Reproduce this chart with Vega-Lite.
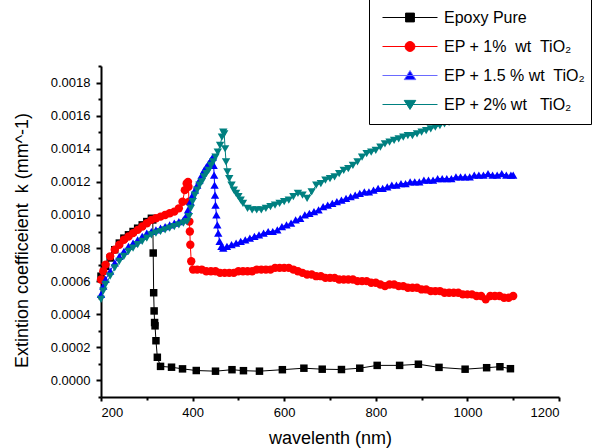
{
  "$schema": "https://vega.github.io/schema/vega-lite/v6.json",
  "width": 458,
  "height": 331,
  "autosize": {"type": "none"},
  "padding": {"left": 101, "top": 66, "right": 34, "bottom": 51},
  "background": "white",
  "config": {"view": {"stroke": null}, "font": "Liberation Sans"},
  "data": {"values": [
    {"s":"EP","nm":200,"k":0.00063},{"s":"EP","nm":210,"k":0.00069},{"s":"EP","nm":220,"k":0.00074},{"s":"EP","nm":230,"k":0.00079},{"s":"EP","nm":240,"k":0.00083},{"s":"EP","nm":250,"k":0.00086},{"s":"EP","nm":260,"k":0.00088},{"s":"EP","nm":270,"k":0.0009},{"s":"EP","nm":280,"k":0.00092},{"s":"EP","nm":290,"k":0.00094},{"s":"EP","nm":300,"k":0.00096},{"s":"EP","nm":310,"k":0.00098},{"s":"EP","nm":313,"k":0.00097},{"s":"EP","nm":314,"k":0.00077},{"s":"EP","nm":315,"k":0.00053},{"s":"EP","nm":316,"k":0.00042},{"s":"EP","nm":317,"k":0.00035},{"s":"EP","nm":318,"k":0.00033},{"s":"EP","nm":320,"k":0.00024},{"s":"EP","nm":323,"k":0.00014},{"s":"EP","nm":330,"k":0.000085},{"s":"EP","nm":354,"k":0.00008},{"s":"EP","nm":378,"k":0.00007},{"s":"EP","nm":408,"k":0.00006},{"s":"EP","nm":450,"k":0.000056},{"s":"EP","nm":486,"k":0.000065},{"s":"EP","nm":511,"k":0.000059},{"s":"EP","nm":546,"k":0.000056},{"s":"EP","nm":596,"k":0.000065},{"s":"EP","nm":643,"k":0.000074},{"s":"EP","nm":683,"k":0.000068},{"s":"EP","nm":725,"k":0.000066},{"s":"EP","nm":765,"k":0.000074},{"s":"EP","nm":803,"k":0.000091},{"s":"EP","nm":852,"k":0.000091},{"s":"EP","nm":893,"k":0.000098},{"s":"EP","nm":938,"k":0.000079},{"s":"EP","nm":995,"k":0.000068},{"s":"EP","nm":1042,"k":0.000077},{"s":"EP","nm":1071,"k":0.000083},{"s":"EP","nm":1094,"k":0.000071},
    {"s":"1","nm":200,"k":0.00061},{"s":"1","nm":205,"k":0.00066},{"s":"1","nm":210,"k":0.0007},{"s":"1","nm":220,"k":0.00075},{"s":"1","nm":230,"k":0.00079},{"s":"1","nm":240,"k":0.00082},{"s":"1","nm":250,"k":0.00085},{"s":"1","nm":260,"k":0.00087},{"s":"1","nm":270,"k":0.00089},{"s":"1","nm":280,"k":0.00091},{"s":"1","nm":290,"k":0.00093},{"s":"1","nm":300,"k":0.00095},{"s":"1","nm":310,"k":0.00097},{"s":"1","nm":320,"k":0.00098},{"s":"1","nm":330,"k":0.00099},{"s":"1","nm":340,"k":0.001},{"s":"1","nm":350,"k":0.00101},{"s":"1","nm":360,"k":0.00102},{"s":"1","nm":370,"k":0.00104},{"s":"1","nm":378,"k":0.00108},{"s":"1","nm":383,"k":0.00115},{"s":"1","nm":387,"k":0.00119},{"s":"1","nm":390,"k":0.0012},{"s":"1","nm":391,"k":0.00117},{"s":"1","nm":392,"k":0.00108},{"s":"1","nm":393,"k":0.00096},{"s":"1","nm":394,"k":0.0009},{"s":"1","nm":395,"k":0.00082},{"s":"1","nm":397,"k":0.00072},{"s":"1","nm":401,"k":0.00067},{"s":"1","nm":410,"k":0.00067},{"s":"1","nm":420,"k":0.00067},{"s":"1","nm":430,"k":0.00066},{"s":"1","nm":440,"k":0.00066},{"s":"1","nm":450,"k":0.00066},{"s":"1","nm":460,"k":0.00065},{"s":"1","nm":470,"k":0.00065},{"s":"1","nm":480,"k":0.00065},{"s":"1","nm":490,"k":0.00065},{"s":"1","nm":500,"k":0.00066},{"s":"1","nm":510,"k":0.00066},{"s":"1","nm":520,"k":0.00066},{"s":"1","nm":530,"k":0.00066},{"s":"1","nm":540,"k":0.00067},{"s":"1","nm":550,"k":0.00067},{"s":"1","nm":560,"k":0.00067},{"s":"1","nm":570,"k":0.00067},{"s":"1","nm":580,"k":0.00068},{"s":"1","nm":590,"k":0.00068},{"s":"1","nm":600,"k":0.00068},{"s":"1","nm":610,"k":0.00068},{"s":"1","nm":620,"k":0.00067},{"s":"1","nm":630,"k":0.00066},{"s":"1","nm":640,"k":0.00065},{"s":"1","nm":650,"k":0.00064},{"s":"1","nm":660,"k":0.00064},{"s":"1","nm":670,"k":0.00063},{"s":"1","nm":680,"k":0.00063},{"s":"1","nm":690,"k":0.00062},{"s":"1","nm":700,"k":0.00062},{"s":"1","nm":710,"k":0.00062},{"s":"1","nm":720,"k":0.00061},{"s":"1","nm":730,"k":0.00061},{"s":"1","nm":740,"k":0.00061},{"s":"1","nm":750,"k":0.00061},{"s":"1","nm":760,"k":0.0006},{"s":"1","nm":770,"k":0.0006},{"s":"1","nm":780,"k":0.0006},{"s":"1","nm":790,"k":0.00059},{"s":"1","nm":800,"k":0.00059},{"s":"1","nm":810,"k":0.00058},{"s":"1","nm":820,"k":0.00057},{"s":"1","nm":830,"k":0.00058},{"s":"1","nm":840,"k":0.00058},{"s":"1","nm":850,"k":0.00057},{"s":"1","nm":860,"k":0.00057},{"s":"1","nm":870,"k":0.00056},{"s":"1","nm":880,"k":0.00056},{"s":"1","nm":890,"k":0.00056},{"s":"1","nm":900,"k":0.00055},{"s":"1","nm":910,"k":0.00055},{"s":"1","nm":920,"k":0.00054},{"s":"1","nm":930,"k":0.00054},{"s":"1","nm":940,"k":0.00054},{"s":"1","nm":950,"k":0.00053},{"s":"1","nm":960,"k":0.00053},{"s":"1","nm":970,"k":0.00053},{"s":"1","nm":980,"k":0.00053},{"s":"1","nm":990,"k":0.00052},{"s":"1","nm":1000,"k":0.00052},{"s":"1","nm":1010,"k":0.00052},{"s":"1","nm":1020,"k":0.00051},{"s":"1","nm":1030,"k":0.00051},{"s":"1","nm":1040,"k":0.00049},{"s":"1","nm":1050,"k":0.00051},{"s":"1","nm":1060,"k":0.00051},{"s":"1","nm":1070,"k":0.00051},{"s":"1","nm":1080,"k":0.0005},{"s":"1","nm":1090,"k":0.0005},{"s":"1","nm":1100,"k":0.00051},
    {"s":"1.5","nm":200,"k":0.00052},{"s":"1.5","nm":205,"k":0.00057},{"s":"1.5","nm":210,"k":0.00061},{"s":"1.5","nm":220,"k":0.00066},{"s":"1.5","nm":230,"k":0.00071},{"s":"1.5","nm":240,"k":0.00075},{"s":"1.5","nm":250,"k":0.00078},{"s":"1.5","nm":260,"k":0.00081},{"s":"1.5","nm":270,"k":0.00083},{"s":"1.5","nm":280,"k":0.00085},{"s":"1.5","nm":290,"k":0.00087},{"s":"1.5","nm":300,"k":0.00089},{"s":"1.5","nm":310,"k":0.0009},{"s":"1.5","nm":320,"k":0.00091},{"s":"1.5","nm":330,"k":0.00092},{"s":"1.5","nm":340,"k":0.00093},{"s":"1.5","nm":350,"k":0.00094},{"s":"1.5","nm":360,"k":0.00095},{"s":"1.5","nm":370,"k":0.00096},{"s":"1.5","nm":380,"k":0.00097},{"s":"1.5","nm":385,"k":0.00099},{"s":"1.5","nm":390,"k":0.00103},{"s":"1.5","nm":395,"k":0.00108},{"s":"1.5","nm":400,"k":0.00112},{"s":"1.5","nm":405,"k":0.00115},{"s":"1.5","nm":410,"k":0.00118},{"s":"1.5","nm":415,"k":0.00121},{"s":"1.5","nm":420,"k":0.00124},{"s":"1.5","nm":425,"k":0.00127},{"s":"1.5","nm":430,"k":0.00129},{"s":"1.5","nm":435,"k":0.00131},{"s":"1.5","nm":440,"k":0.00133},{"s":"1.5","nm":444,"k":0.00135},{"s":"1.5","nm":446,"k":0.0013},{"s":"1.5","nm":447,"k":0.00124},{"s":"1.5","nm":448,"k":0.00118},{"s":"1.5","nm":449,"k":0.00112},{"s":"1.5","nm":450,"k":0.00106},{"s":"1.5","nm":452,"k":0.001},{"s":"1.5","nm":454,"k":0.00094},{"s":"1.5","nm":456,"k":0.00089},{"s":"1.5","nm":459,"k":0.00084},{"s":"1.5","nm":463,"k":0.00081},{"s":"1.5","nm":467,"k":0.0008},{"s":"1.5","nm":475,"k":0.00081},{"s":"1.5","nm":485,"k":0.00082},{"s":"1.5","nm":495,"k":0.00083},{"s":"1.5","nm":505,"k":0.00084},{"s":"1.5","nm":515,"k":0.00085},{"s":"1.5","nm":525,"k":0.00086},{"s":"1.5","nm":535,"k":0.00087},{"s":"1.5","nm":545,"k":0.00088},{"s":"1.5","nm":555,"k":0.00089},{"s":"1.5","nm":565,"k":0.0009},{"s":"1.5","nm":575,"k":0.0009},{"s":"1.5","nm":585,"k":0.00091},{"s":"1.5","nm":595,"k":0.00093},{"s":"1.5","nm":605,"k":0.00094},{"s":"1.5","nm":615,"k":0.00095},{"s":"1.5","nm":625,"k":0.00097},{"s":"1.5","nm":635,"k":0.00098},{"s":"1.5","nm":645,"k":0.001},{"s":"1.5","nm":655,"k":0.00101},{"s":"1.5","nm":665,"k":0.00102},{"s":"1.5","nm":675,"k":0.00103},{"s":"1.5","nm":685,"k":0.00105},{"s":"1.5","nm":695,"k":0.00106},{"s":"1.5","nm":705,"k":0.00107},{"s":"1.5","nm":715,"k":0.00108},{"s":"1.5","nm":725,"k":0.00109},{"s":"1.5","nm":735,"k":0.0011},{"s":"1.5","nm":745,"k":0.00111},{"s":"1.5","nm":755,"k":0.00112},{"s":"1.5","nm":765,"k":0.00113},{"s":"1.5","nm":775,"k":0.00114},{"s":"1.5","nm":785,"k":0.00114},{"s":"1.5","nm":795,"k":0.00115},{"s":"1.5","nm":805,"k":0.00116},{"s":"1.5","nm":815,"k":0.00116},{"s":"1.5","nm":825,"k":0.00117},{"s":"1.5","nm":835,"k":0.00118},{"s":"1.5","nm":845,"k":0.00118},{"s":"1.5","nm":855,"k":0.00119},{"s":"1.5","nm":865,"k":0.00119},{"s":"1.5","nm":875,"k":0.0012},{"s":"1.5","nm":885,"k":0.0012},{"s":"1.5","nm":895,"k":0.0012},{"s":"1.5","nm":905,"k":0.00121},{"s":"1.5","nm":915,"k":0.00121},{"s":"1.5","nm":925,"k":0.00121},{"s":"1.5","nm":935,"k":0.00122},{"s":"1.5","nm":945,"k":0.00122},{"s":"1.5","nm":955,"k":0.00122},{"s":"1.5","nm":965,"k":0.00122},{"s":"1.5","nm":975,"k":0.00123},{"s":"1.5","nm":985,"k":0.00123},{"s":"1.5","nm":995,"k":0.00123},{"s":"1.5","nm":1005,"k":0.00123},{"s":"1.5","nm":1015,"k":0.00124},{"s":"1.5","nm":1025,"k":0.00124},{"s":"1.5","nm":1035,"k":0.00124},{"s":"1.5","nm":1045,"k":0.00125},{"s":"1.5","nm":1055,"k":0.00124},{"s":"1.5","nm":1065,"k":0.00124},{"s":"1.5","nm":1075,"k":0.00125},{"s":"1.5","nm":1085,"k":0.00124},{"s":"1.5","nm":1095,"k":0.00124},{"s":"1.5","nm":1100,"k":0.00124},
    {"s":"2","nm":200,"k":0.00049},{"s":"2","nm":205,"k":0.00054},{"s":"2","nm":210,"k":0.00058},{"s":"2","nm":220,"k":0.00063},{"s":"2","nm":230,"k":0.00068},{"s":"2","nm":240,"k":0.00072},{"s":"2","nm":250,"k":0.00075},{"s":"2","nm":260,"k":0.00078},{"s":"2","nm":270,"k":0.0008},{"s":"2","nm":280,"k":0.00082},{"s":"2","nm":290,"k":0.00084},{"s":"2","nm":300,"k":0.00086},{"s":"2","nm":310,"k":0.00088},{"s":"2","nm":320,"k":0.00089},{"s":"2","nm":330,"k":0.0009},{"s":"2","nm":340,"k":0.00091},{"s":"2","nm":350,"k":0.00092},{"s":"2","nm":360,"k":0.00093},{"s":"2","nm":370,"k":0.00094},{"s":"2","nm":380,"k":0.00095},{"s":"2","nm":388,"k":0.00096},{"s":"2","nm":392,"k":0.00099},{"s":"2","nm":396,"k":0.00104},{"s":"2","nm":400,"k":0.00108},{"s":"2","nm":405,"k":0.00112},{"s":"2","nm":410,"k":0.00115},{"s":"2","nm":415,"k":0.00118},{"s":"2","nm":420,"k":0.0012},{"s":"2","nm":425,"k":0.00123},{"s":"2","nm":430,"k":0.00125},{"s":"2","nm":435,"k":0.00127},{"s":"2","nm":440,"k":0.0013},{"s":"2","nm":445,"k":0.00132},{"s":"2","nm":450,"k":0.00135},{"s":"2","nm":455,"k":0.00138},{"s":"2","nm":460,"k":0.00142},{"s":"2","nm":464,"k":0.00147},{"s":"2","nm":467,"k":0.0015},{"s":"2","nm":469,"k":0.00149},{"s":"2","nm":471,"k":0.0014},{"s":"2","nm":473,"k":0.00132},{"s":"2","nm":476,"k":0.00126},{"s":"2","nm":480,"k":0.00122},{"s":"2","nm":485,"k":0.00118},{"s":"2","nm":490,"k":0.00115},{"s":"2","nm":495,"k":0.00113},{"s":"2","nm":500,"k":0.00111},{"s":"2","nm":505,"k":0.00109},{"s":"2","nm":510,"k":0.00107},{"s":"2","nm":520,"k":0.00104},{"s":"2","nm":530,"k":0.00103},{"s":"2","nm":540,"k":0.00103},{"s":"2","nm":550,"k":0.00103},{"s":"2","nm":560,"k":0.00104},{"s":"2","nm":570,"k":0.00105},{"s":"2","nm":580,"k":0.00106},{"s":"2","nm":590,"k":0.00107},{"s":"2","nm":600,"k":0.00108},{"s":"2","nm":610,"k":0.00109},{"s":"2","nm":620,"k":0.00111},{"s":"2","nm":630,"k":0.00113},{"s":"2","nm":640,"k":0.00112},{"s":"2","nm":650,"k":0.0011},{"s":"2","nm":660,"k":0.00114},{"s":"2","nm":670,"k":0.00118},{"s":"2","nm":680,"k":0.00119},{"s":"2","nm":690,"k":0.00121},{"s":"2","nm":700,"k":0.00122},{"s":"2","nm":710,"k":0.00123},{"s":"2","nm":720,"k":0.00125},{"s":"2","nm":730,"k":0.00127},{"s":"2","nm":740,"k":0.00128},{"s":"2","nm":750,"k":0.0013},{"s":"2","nm":760,"k":0.00132},{"s":"2","nm":770,"k":0.00135},{"s":"2","nm":780,"k":0.00137},{"s":"2","nm":790,"k":0.00138},{"s":"2","nm":800,"k":0.00139},{"s":"2","nm":810,"k":0.00141},{"s":"2","nm":820,"k":0.00143},{"s":"2","nm":830,"k":0.00144},{"s":"2","nm":840,"k":0.00145},{"s":"2","nm":850,"k":0.00146},{"s":"2","nm":860,"k":0.00147},{"s":"2","nm":870,"k":0.00148},{"s":"2","nm":880,"k":0.00148},{"s":"2","nm":890,"k":0.00149},{"s":"2","nm":900,"k":0.0015},{"s":"2","nm":910,"k":0.00151},{"s":"2","nm":920,"k":0.00152},{"s":"2","nm":930,"k":0.00153},{"s":"2","nm":940,"k":0.00154},{"s":"2","nm":950,"k":0.00155},{"s":"2","nm":960,"k":0.00156},{"s":"2","nm":970,"k":0.00157},{"s":"2","nm":980,"k":0.00158},{"s":"2","nm":990,"k":0.00159},{"s":"2","nm":1000,"k":0.0016},{"s":"2","nm":1020,"k":0.00162},{"s":"2","nm":1040,"k":0.00164},{"s":"2","nm":1060,"k":0.00166},{"s":"2","nm":1080,"k":0.00168},{"s":"2","nm":1100,"k":0.0017}
  ]},
  "encoding": {
    "x": {"field": "nm", "type": "quantitative", "scale": {"domain": [200, 1200], "nice": false, "zero": false}},
    "y": {"field": "k", "type": "quantitative", "scale": {"domain": [-0.0001, 0.0019], "nice": false, "zero": false}}
  },
  "resolve": {"axis": {"x": "independent", "y": "independent"}},
  "layer": [
    {
      "transform": [{"filter": "datum.s == 'EP'"}],
      "mark": {"type": "line", "color": "black", "strokeWidth": 1, "point": {"shape": "square", "size": 56, "filled": true, "color": "black"}},
      "encoding": {
        "x": {"field": "nm", "type": "quantitative", "axis": {"orient": "bottom", "values": [200, 400, 600, 800, 1000, 1200], "format": "d", "grid": false, "domainColor": "black", "domainWidth": 2, "tickColor": "black", "tickWidth": 2, "tickSize": 4, "labelColor": "black", "labelFont": "Liberation Sans", "labelFontSize": 13, "labelPadding": 5, "title": "wavelenth (nm)", "titleFont": "Liberation Sans", "titleFontSize": 18, "titleFontWeight": "normal", "titleColor": "black", "titleY": 32}},
        "y": {"field": "k", "type": "quantitative", "axis": {"orient": "left", "values": [0, 0.0002, 0.0004, 0.0006, 0.0008, 0.001, 0.0012, 0.0014, 0.0016, 0.0018], "format": ".4f", "grid": false, "domainColor": "black", "domainWidth": 2, "tickColor": "black", "tickWidth": 2, "tickSize": 5, "labelColor": "black", "labelFont": "Liberation Sans", "labelFontSize": 13, "labelPadding": 6, "title": "Extintion coefficeient \u00a0k (mm^-1)", "titleFont": "Liberation Sans", "titleFontSize": 18, "titleFontWeight": "normal", "titleColor": "black", "titleX": -70, "titleY": 174}}
      }
    },
    {
      "transform": [{"filter": "datum.s == '1'"}],
      "mark": {"type": "line", "color": "#ff0000", "strokeWidth": 1, "point": {"shape": "circle", "size": 70, "filled": true, "color": "#ff0000"}},
      "encoding": {"x": {"field": "nm", "type": "quantitative", "axis": null}, "y": {"field": "k", "type": "quantitative", "axis": null}}
    },
    {
      "transform": [{"filter": "datum.s == '1.5'"}],
      "mark": {"type": "line", "color": "#0000ff", "strokeWidth": 1, "point": {"shape": "triangle-up", "size": 70, "filled": true, "color": "#0000ff"}},
      "encoding": {"x": {"field": "nm", "type": "quantitative", "axis": null}, "y": {"field": "k", "type": "quantitative", "axis": null}}
    },
    {
      "transform": [{"filter": "datum.s == '2'"}],
      "mark": {"type": "line", "color": "#008080", "strokeWidth": 1, "point": {"shape": "triangle-down", "size": 70, "filled": true, "color": "#008080"}},
      "encoding": {"x": {"field": "nm", "type": "quantitative", "axis": null}, "y": {"field": "k", "type": "quantitative", "axis": null}}
    },
    {
      "transform": [{"filter": "datum.nm < 0"}],
      "mark": {"type": "point", "opacity": 1, "strokeWidth": 1},
      "encoding": {
        "x": {"field": "nm", "type": "quantitative", "axis": {"orient": "bottom", "values": [300, 500, 700, 900, 1100], "labels": false, "domain": false, "grid": false, "ticks": true, "tickColor": "black", "tickWidth": 2, "tickSize": 3, "title": null}},
        "y": {"field": "k", "type": "quantitative", "axis": {"orient": "left", "values": [-0.0001, 0.0001, 0.0003, 0.0005, 0.0007, 0.0009, 0.0011, 0.0013, 0.0015, 0.0017, 0.0019], "labels": false, "domain": false, "grid": false, "ticks": true, "tickColor": "black", "tickWidth": 2, "tickSize": 3, "title": null}},
        "fill": {"field": "s", "type": "nominal", "scale": {"domain": ["EP", "1", "1.5", "2"], "range": ["#000000", "#ff0000", "#0000ff", "#008080"]}},
        "stroke": {"field": "s", "type": "nominal", "scale": {"domain": ["EP", "1", "1.5", "2"], "range": ["#000000", "#ff0000", "#6a6aff", "#008080"]}},
        "shape": {"field": "s", "type": "nominal", "scale": {"domain": ["EP", "1", "1.5", "2"], "range": ["M-1,0H1M-0.16,-0.16H0.16V0.16H-0.16Z", "M-1,0H1M-0.18,0A0.18,0.18,0,1,0,0.18,0A0.18,0.18,0,1,0,-0.18,0Z", "M-1,0H1M0,-0.18L0.21,0.15H-0.21Z", "M-1,0H1M0,0.18L0.21,-0.15H-0.21Z"]},
          "legend": {"orient": "none", "legendX": 268, "legendY": -68, "title": null, "padding": 5, "clipHeight": 29, "rowPadding": 0, "symbolSize": 3025, "symbolOffset": 8, "symbolStrokeWidth": 1, "labelOffset": 6, "labelFont": "Liberation Sans", "labelFontSize": 16, "labelColor": "black", "labelLimit": 400, "strokeColor": "black", "fillColor": "white",
            "labelExpr": "datum.label == 'EP' ? 'Epoxy Pure' : datum.label == '1' ? 'EP + 1%\u00a0 wt\u00a0 TiO\u2082' : datum.label == '1.5' ? 'EP + 1.5 % wt\u00a0 TiO\u2082\u00a0\u00a0\u00a0\u00a0\u00a0' : 'EP + 2% wt\u00a0\u00a0 TiO\u2082'"}
        }
      }
    }
  ]
}
